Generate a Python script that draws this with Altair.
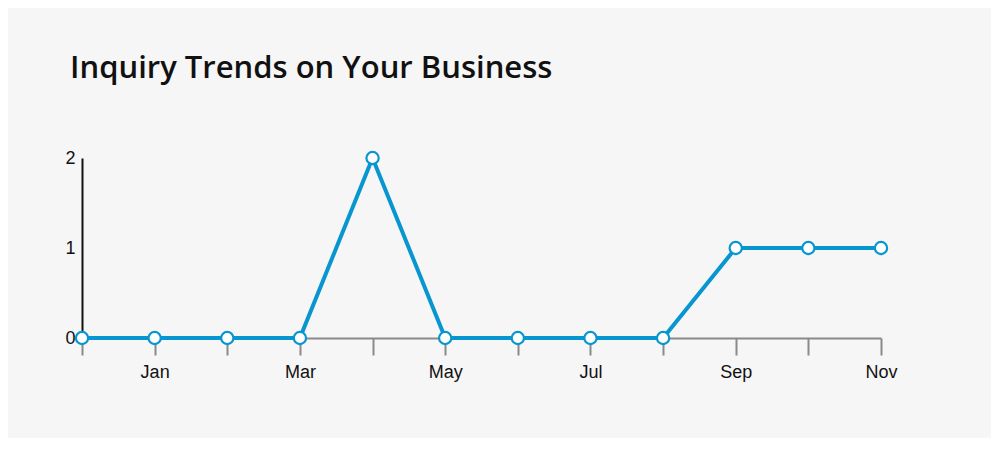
import altair as alt
import pandas as pd

months = ["Dec", "Jan", "Feb", "Mar", "Apr", "May", "Jun", "Jul", "Aug", "Sep", "Oct", "Nov"]
inquiries = [0, 0, 0, 0, 2, 0, 0, 0, 0, 1, 1, 1]
shown_labels = ["Jan", "Mar", "May", "Jul", "Sep", "Nov"]
y_ticks = [0, 1, 2]

df = pd.DataFrame({"month": months, "inquiries": inquiries})

label_expr = "indexof(" + str(shown_labels).replace("'", '"') + ", datum.label) >= 0 ? datum.label : ''"

x = alt.X(
    "month:N",
    sort=months,
    scale=alt.Scale(type="point", padding=0),
    axis=alt.Axis(
        title=None,
        labelAngle=0,
        labelExpr=label_expr,
        domainColor="#8a8a8a",
        domainWidth=2,
        tickColor="#8a8a8a",
        tickWidth=2,
        tickSize=17,
        labelPadding=8,
        labelFont="Liberation Sans",
        labelFontSize=18,
        labelColor="#111111",
        grid=False,
    ),
)
y = alt.Y(
    "inquiries:Q",
    scale=alt.Scale(domain=[0, 2], nice=False),
    axis=alt.Axis(
        title=None,
        values=y_ticks,
        labelExpr="format(datum.value, 'd')",
        ticks=False,
        labelOverlap=False,
        domainColor="#111111",
        domainWidth=2,
        labelPadding=7,
        labelFont="Liberation Sans",
        labelFontSize=18,
        labelColor="#111111",
        grid=False,
    ),
)

line = alt.Chart(df).mark_line(color="#0896d0", strokeWidth=4).encode(x=x, y=y)
points = alt.Chart(df).mark_point(
    shape="circle", filled=True, fill="white", stroke="#0896d0", strokeWidth=2.2, size=150, opacity=1
).encode(x=x, y=y)

chart = (
    alt.layer(line, points)
    .properties(
        width=799,
        height=180,
        padding={"left": 74, "top": 150, "right": 110, "bottom": 100},
        autosize=alt.AutoSizeParams(type="none"),
        background="#f6f6f6",
        title=alt.TitleParams(
            "Inquiry Trends on Your Business",
            anchor="start",
            frame="group",
            font="Open Sans",
            fontSize=31,
            fontWeight=600,
            color="#111111",
            baseline="alphabetic",
            offset=38,
            dx=-12,
        ),
    )
    .configure_view(stroke=None)
)

chart.save("out.html", embed_options={"renderer": "svg", "actions": False})
